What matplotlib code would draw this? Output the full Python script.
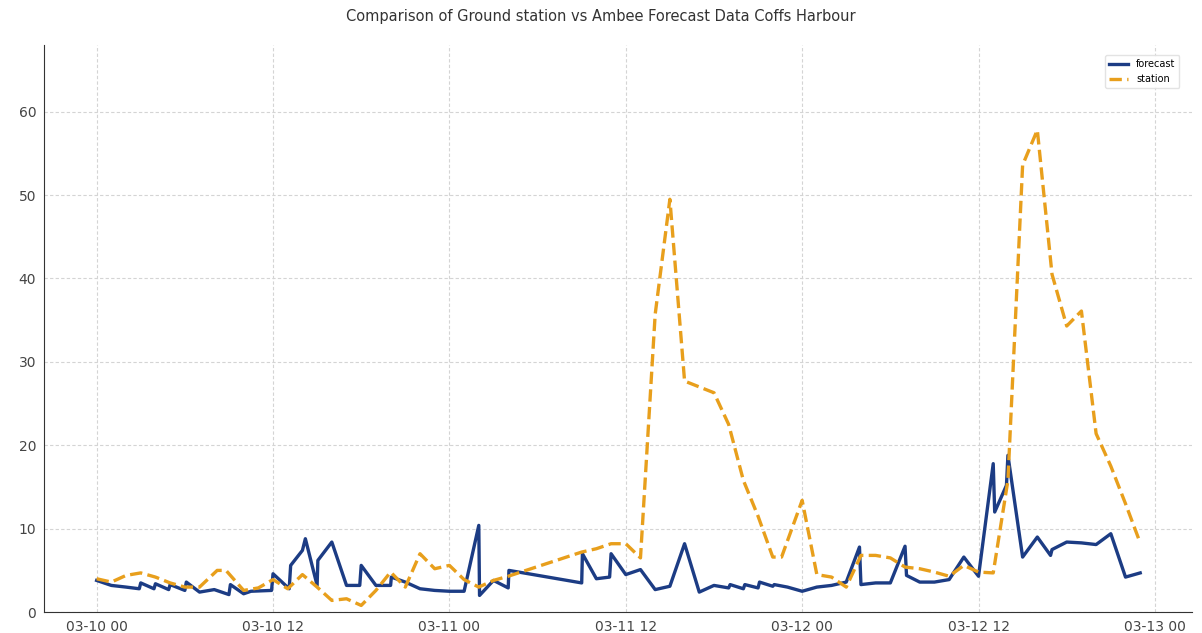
import matplotlib
matplotlib.use("Agg")
import matplotlib.pyplot as plt
import matplotlib.dates as mdates
import numpy as np
import pandas as pd

START = pd.Timestamp("2024-03-10 00:00")

# forecast: hours since start, value
fc_hours = [0, 1, 2, 2.9, 3, 3.9, 4, 4.9, 5, 6, 6.1, 7, 8, 9, 9.1, 10, 10.5, 11.9, 12, 13.1,
            13.2, 14, 14.2, 15, 15.05, 16, 17, 17.9, 18, 19, 20, 20.05, 21, 22, 23, 24, 25, 26,
            26.05, 27, 28, 28.05, 33, 33.05, 34, 34.9, 35, 36, 37, 38, 39, 40, 41, 42, 43, 43.1,
            44, 44.1, 45, 45.1, 46, 46.1, 47, 48, 49, 50, 51, 51.9, 52, 53, 54, 55, 55.1, 56, 57,
            58, 59, 60, 61, 61.1, 61.9, 62, 63, 64, 64.9, 65, 66, 67, 68, 69, 70, 71]
fc_vals = [3.8, 3.2, 3.0, 2.8, 3.5, 2.8, 3.4, 2.7, 3.3, 2.6, 3.6, 2.4, 2.7, 2.1, 3.3, 2.2, 2.5, 2.6,
           4.6, 2.8, 5.6, 7.4, 8.8, 3.2, 6.2, 8.4, 3.2, 3.2, 5.6, 3.2, 3.2, 4.2, 3.6, 2.8, 2.6, 2.5,
           2.5, 10.4, 2.0, 3.8, 2.9, 5.0, 3.5, 7.0, 4.0, 4.2, 7.0, 4.5, 5.1, 2.7, 3.1, 8.2, 2.4, 3.2,
           2.9, 3.3, 2.8, 3.3, 2.9, 3.6, 3.1, 3.3, 3.0, 2.5, 3.0, 3.2, 3.6, 7.8, 3.3, 3.5, 3.5, 7.9,
           4.4, 3.6, 3.6, 3.9, 6.6, 4.3, 17.8, 12.0, 15.2, 18.8, 6.6, 9.0, 6.8, 7.5, 8.4, 8.3, 8.1,
           9.4, 4.2, 4.7]

# ground station
st_hours = [0, 1, 2, 3, 4, 5, 6, 7, 8.2, 8.8, 10, 11, 12, 13, 14, 15, 16, 17, 18, 19, 20, 21, 22,
            23, 24, 25, 26, 27, 28, 33, 34, 35, 36, 37, 38, 39, 40, 41, 42, 43, 44, 45, 46, 46.6,
            48, 49, 50, 51, 52, 53, 54, 55, 56, 57, 58, 59, 60, 61, 62, 63, 64, 65, 66, 67, 68,
            69, 70, 71]
st_vals = [4.0, 3.6, 4.4, 4.7, 4.2, 3.5, 3.0, 3.0, 5.0, 5.0, 2.6, 2.9, 3.9, 2.8, 4.5, 3.0, 1.4,
           1.6, 0.8, 2.6, 4.8, 3.0, 7.0, 5.2, 5.6, 3.9, 3.0, 3.8, 4.3, 7.2, 7.6, 8.2, 8.2, 6.5,
           35.7, 49.5, 27.7, 27.0, 26.3, 22.5, 15.8, 11.5, 6.6, 6.6, 13.4, 4.5, 4.2, 3.0, 6.8,
           6.8, 6.5, 5.4, 5.2, 4.8, 4.3, 5.6, 4.8, 4.7, 15.8, 53.6, 57.8, 40.5, 34.3, 36.1, 21.4,
           17.5, 13.0, 8.3]

fc_time = START + pd.to_timedelta(fc_hours, unit="h")
st_time = START + pd.to_timedelta(st_hours, unit="h")

fig = plt.figure(figsize=(12.02, 6.33), dpi=100)
ax = fig.add_axes([0.037, 0.033, 0.955, 0.896])

ax.plot(fc_time, fc_vals, color="#1c3c84", lw=2.4, label="forecast")
ax.plot(st_time, st_vals, color="#e89f1c", lw=2.4, ls="--", label="station")

ax.set_ylim(0, 68)
ax.set_yticks(np.arange(0, 61, 10))
ax.xaxis.set_major_locator(mdates.HourLocator(byhour=[0, 12]))
ax.xaxis.set_major_formatter(mdates.DateFormatter("%m-%d %H"))

ax.grid(True, ls=(0, (3, 2)), color="#d4d4d4", lw=0.8)
for side in ["top", "right"]:
    ax.spines[side].set_visible(False)
for side in ["left", "bottom"]:
    ax.spines[side].set_color("#333333")
ax.tick_params(labelsize=10, labelcolor="#444444", length=0, pad=6)

ax.legend(loc="upper right", fontsize=7, framealpha=0.9, edgecolor="#e0e0e0",
          bbox_to_anchor=(0.993, 0.99))
fig.suptitle("Comparison of Ground station vs Ambee Forecast Data Coffs Harbour",
             fontsize=10.5, color="#333333", y=0.985)

fig.savefig("out.png", dpi=100)
